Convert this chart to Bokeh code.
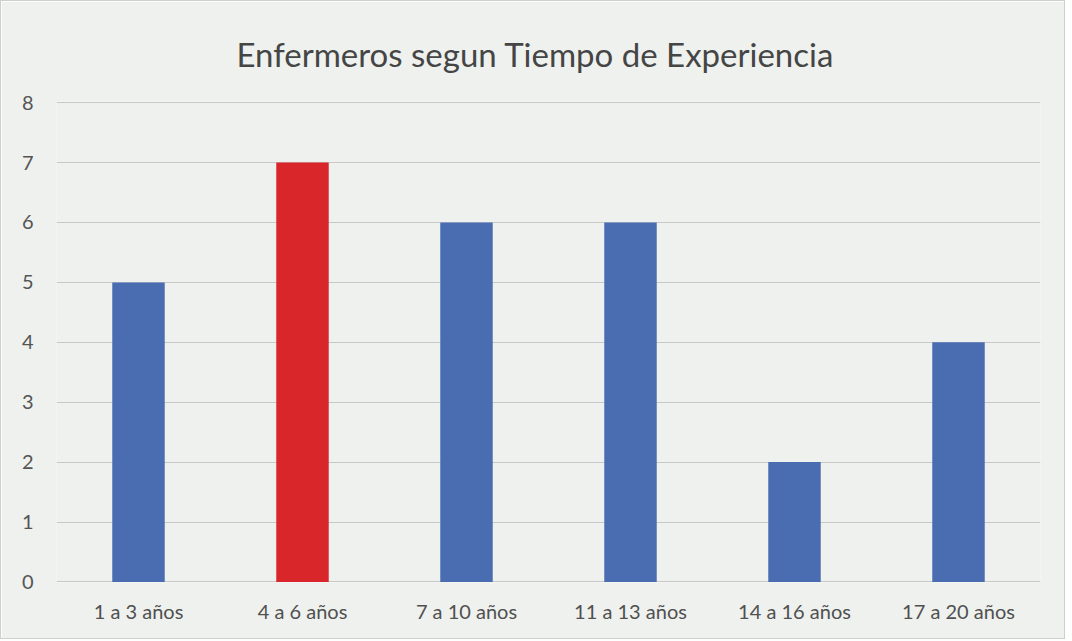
from bokeh.plotting import figure
from bokeh.models import ColumnDataSource, Range1d, FactorRange
from bokeh.embed import file_html
from bokeh.resources import INLINE

categories = ["1 a 3 años", "4 a 6 años", "7 a 10 años", "11 a 13 años", "14 a 16 años", "17 a 20 años"]
values = [5, 7, 6, 6, 2, 4]
colors = ["#4a6db1", "#d9262b", "#4a6db1", "#4a6db1", "#4a6db1", "#4a6db1"]
y_ticks = [0, 1, 2, 3, 4, 5, 6, 7, 8]
title_text = "Enfermeros segun Tiempo de Experiencia"

src = ColumnDataSource(dict(cat=categories, val=values, col=colors))

p = figure(
    x_range=FactorRange(factors=categories, range_padding=0),
    y_range=Range1d(-0.01, 8.02),
    frame_width=984, frame_height=481,
    min_border_left=55, min_border_right=24, min_border_top=100, min_border_bottom=56,
    output_backend="svg", toolbar_location=None,
    background_fill_color="#eef1ee", border_fill_color="#eef1ee",
    outline_line_color=None,
)
p.title.text = title_text
p.title.align = "left"
p.title.offset = 180
p.title.text_font = "Lato"
p.title.text_font_size = "33px"
p.title.text_font_style = "normal"
p.title.text_color = "#454545"
p.title.standoff = 56

p.vbar(x="cat", top="val", bottom=0, width=0.32, fill_color="col", line_color=None, source=src)

p.yaxis.ticker = y_ticks
p.yaxis.axis_line_color = None
p.yaxis.major_tick_line_color = None
p.yaxis.minor_tick_line_color = None
p.yaxis.major_label_standoff = 17
p.yaxis.major_label_text_font = "Lato"
p.yaxis.major_label_text_font_size = "20px"
p.yaxis.major_label_text_color = "#555555"

p.xaxis.axis_line_color = None
p.xaxis.major_tick_line_color = None
p.xaxis.major_label_standoff = 10
p.xaxis.major_label_text_font = "Lato"
p.xaxis.major_label_text_font_size = "20px"
p.xaxis.major_label_text_color = "#505050"

p.xgrid.grid_line_color = None
p.ygrid.grid_line_color = "#c8c8c8"
p.ygrid.grid_line_width = 1

p.styles = {"border": "1px solid #cfcfcf"}

open("out.html", "w").write(file_html(p, INLINE))
